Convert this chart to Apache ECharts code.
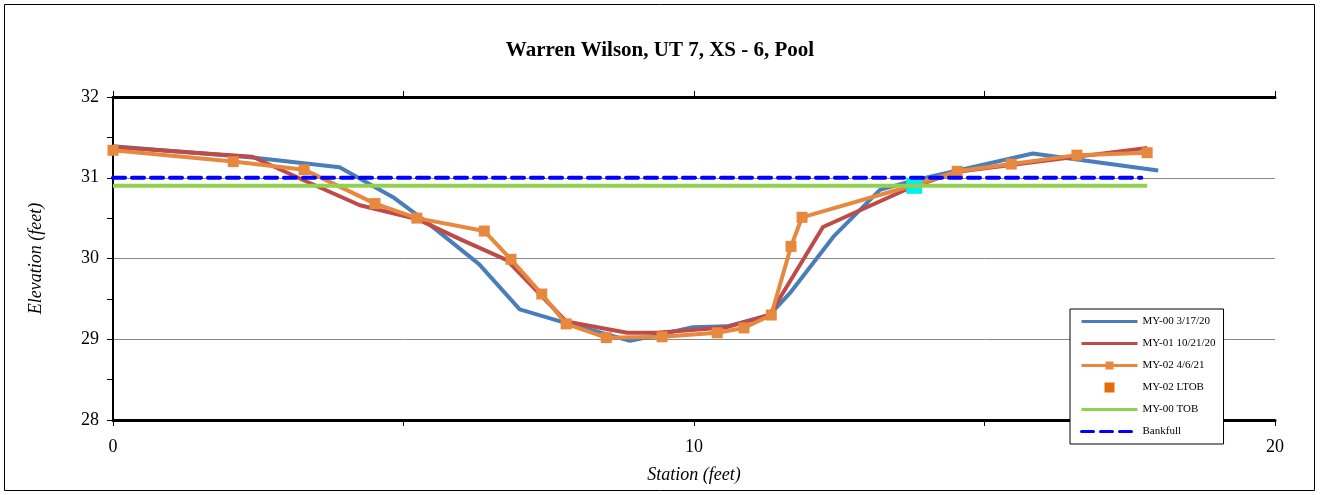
<!DOCTYPE html>
<html><head><meta charset="utf-8">
<script src="https://cdn.jsdelivr.net/npm/echarts@6/dist/echarts.min.js"></script>
<style>html,body{margin:0;padding:0;background:#fff}#c{width:1320px;height:495px}</style>
</head><body><div id="c"></div>
<script>
const title = "Warren Wilson, UT 7, XS - 6, Pool";
const seriesNames = ["MY-00 3/17/20","MY-01 10/21/20","MY-02 4/6/21","MY-02 LTOB","MY-00 TOB","Bankfull"];

const my00Station = [0, 2.4, 3.9, 4.82, 5.4, 6.3, 7.0, 7.8, 8.4, 8.9, 9.36, 9.98, 10.57, 11.3, 11.65, 12.4, 13.2, 13.8, 15.83, 17.99];
const my00Elev    = [31.39, 31.25, 31.13, 30.76, 30.45, 29.93, 29.37, 29.2, 29.08, 28.98, 29.05, 29.15, 29.16, 29.3, 29.57, 30.27, 30.85, 30.97, 31.3, 31.09];

const my01Station = [0, 2.4, 3.34, 4.25, 5.23, 6.0, 6.78, 7.8, 8.85, 9.36, 10.57, 11.3, 12.22, 13.7, 14.5, 17.8];
const my01Elev    = [31.38, 31.26, 30.95, 30.66, 30.49, 30.23, 29.98, 29.22, 29.08, 29.08, 29.15, 29.3, 30.39, 30.87, 31.07, 31.37];

const my02Station = [0, 2.07, 3.29, 4.51, 5.23, 6.39, 6.85, 7.38, 7.8, 8.49, 9.45, 10.4, 10.86, 11.33, 11.67, 11.86, 13.79, 14.53, 15.46, 16.59, 17.8];
const my02Elev    = [31.34, 31.2, 31.1, 30.68, 30.5, 30.34, 29.99, 29.56, 29.19, 29.02, 29.03, 29.08, 29.14, 29.3, 30.15, 30.51, 30.91, 31.08, 31.17, 31.28, 31.31];

const ltobStation = [13.79];
const ltobElev    = [30.9];

const tobStation = [0, 17.8];
const tobElev    = [30.9, 30.9];

const bkfStation = [0, 17.7];
const bkfElev    = [31.0, 31.0];

const xTicks = [0, 10, 20];
const yTicks = [28, 29, 30, 31, 32];

function pairs(xs, ys){ return xs.map((x,i)=>[x, ys[i]]); }

const font = "Liberation Serif";
const chart = echarts.init(document.getElementById('c'), null, {renderer:'canvas'});
const axisBase = {
  type:'value',
  axisLine:{show:true, lineStyle:{color:'#000', width:2}},
  axisTick:{show:true, length:6, lineStyle:{color:'#000', width:1}},
  minorTick:{show:true, splitNumber:2, length:6, lineStyle:{color:'#000', width:1}},
  splitLine:{show:false},
  axisLabel:{show:false}
};
const squareIcon = 'path://M0,0h10v10h-10z';
const hidden = {color:'rgba(0,0,0,0)', borderWidth:0, opacity:0};
chart.setOption({
  animation:false,
  backgroundColor:'#fff',
  graphic:[{type:'rect', shape:{x:4.5,y:4.5,width:1310,height:486}, style:{fill:'none', stroke:'#000', lineWidth:1}, z:-10}],
  title:{text:title, left:'center', top:35, textStyle:{fontFamily:font, fontWeight:'bold', fontSize:21, color:'#000'}},
  grid:{left:113, right:45, top:97, bottom:75},
  legend:{
    orient:'vertical', left:1070, top:309,
    itemWidth:56, itemHeight:10, itemGap:11,
    padding:[7,8,7,10],
    borderColor:'#000', borderWidth:1, backgroundColor:'#fff',
    lineStyle:{width:3},
    textStyle:{fontFamily:font, fontSize:11, color:'#000'},
    data:[
      {name:seriesNames[0], itemStyle:hidden},
      {name:seriesNames[1], itemStyle:hidden},
      {name:seriesNames[2]},
      {name:seriesNames[3], icon:squareIcon, itemStyle:{color:'#E46C0A', opacity:1}},
      {name:seriesNames[4], itemStyle:hidden},
      {name:seriesNames[5], itemStyle:hidden}
    ]
  },
  xAxis:[
    Object.assign({}, axisBase, {
      min:0, max:20, interval:10, position:'bottom',
      axisLine:{show:true, onZero:false, lineStyle:{color:'#000', width:3}},
      axisLabel:{show:true, margin:18, fontFamily:font, fontSize:18, color:'#000', formatter:v=>xTicks.includes(v)?String(v):''},
      name:'Station (feet)', nameLocation:'middle', nameGap:46,
      nameTextStyle:{fontFamily:font, fontStyle:'italic', fontSize:18, color:'#000'}
    }),
    Object.assign({}, axisBase, {
      min:0, max:20, interval:10, position:'top',
      axisLine:{show:true, onZero:false, lineStyle:{color:'#000', width:3}}
    })
  ],
  yAxis:[
    Object.assign({}, axisBase, {
      min:28, max:32, interval:1, position:'left',
      splitLine:{show:true, lineStyle:{color:'#888', width:1}},
      axisLabel:{show:true, margin:14, fontFamily:font, fontSize:18, color:'#000', formatter:v=>yTicks.includes(v)?String(v):''},
      name:'Elevation (feet)', nameLocation:'middle', nameGap:68,
      nameTextStyle:{fontFamily:font, fontStyle:'italic', fontSize:18, color:'#000'}
    }),
    Object.assign({}, axisBase, {
      min:28, max:32, interval:1, position:'right',
      axisTick:{show:false}, minorTick:{show:false}
    })
  ],
  series:[
    {name:seriesNames[0], type:'line', data:pairs(my00Station,my00Elev), symbol:'none', lineStyle:{color:'#4A7EBB', width:4}, itemStyle:{color:'#4A7EBB'}, z:2},
    {name:seriesNames[1], type:'line', data:pairs(my01Station,my01Elev), symbol:'none', lineStyle:{color:'#BE4B48', width:4}, itemStyle:{color:'#BE4B48'}, z:3},
    {name:seriesNames[2], type:'line', data:pairs(my02Station,my02Elev), symbol:'rect', symbolSize:11, lineStyle:{color:'#E6883E', width:4}, itemStyle:{color:'#E6883E'}, z:4},
    {name:seriesNames[3], type:'scatter', data:pairs(ltobStation,ltobElev), symbol:'rect', symbolSize:16, itemStyle:{color:'#00F0F0', opacity:1}, z:5},
    {name:seriesNames[4], type:'line', data:pairs(tobStation,tobElev), symbol:'none', lineStyle:{color:'#92D050', width:4}, itemStyle:{color:'#92D050'}, z:6},
    {name:seriesNames[5], type:'line', data:pairs(bkfStation,bkfElev), symbol:'none', lineStyle:{color:'#0000FF', width:4, type:[12,7], cap:'round'}, itemStyle:{color:'#0000FF'}, z:7}
  ]
});
</script></body></html>
